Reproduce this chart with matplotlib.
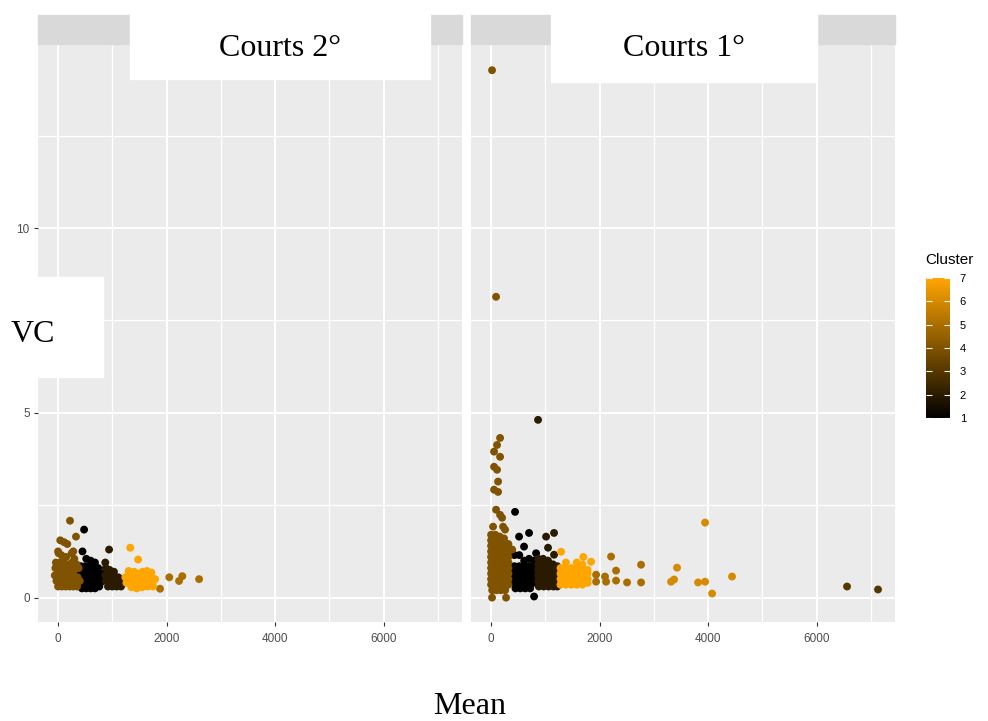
import numpy as np
import matplotlib
matplotlib.use('Agg')
import matplotlib.pyplot as plt
from matplotlib.colors import LinearSegmentedColormap, Normalize
from matplotlib.cm import ScalarMappable
from matplotlib.patches import Rectangle

# Facet titles and cluster levels
panel_titles = ['Courts 2°', 'Courts 1°']
cluster_levels = [1, 2, 3, 4, 5, 6, 7]

# Courts 2° : (Mean, VC) per cluster
c2_cl1 = [(480, 1.84), (450, 1.25), (520, 1.05), (600, 1.0), (680, 0.95),
          (420, 0.85), (500, 0.85), (580, 0.85), (660, 0.85), (740, 0.8),
          (400, 0.7), (480, 0.7), (560, 0.7), (640, 0.7), (720, 0.7), (800, 0.65),
          (420, 0.55), (500, 0.55), (580, 0.55), (660, 0.55), (740, 0.55), (820, 0.5),
          (380, 0.4), (460, 0.4), (540, 0.4), (620, 0.4), (700, 0.4), (780, 0.4),
          (440, 0.25), (520, 0.25), (600, 0.25), (680, 0.25), (760, 0.3)]
c2_cl2 = [(940, 1.3), (870, 0.95), (880, 0.8), (950, 0.75), (1030, 0.7),
          (870, 0.6), (950, 0.6), (1030, 0.55), (1110, 0.55), (1190, 0.5),
          (880, 0.45), (960, 0.45), (1040, 0.4), (1120, 0.4), (1200, 0.4),
          (920, 0.3), (1000, 0.3), (1080, 0.3), (1160, 0.3)]
c2_cl4 = [(220, 2.08), (40, 1.55), (110, 1.5), (170, 1.45), (330, 1.65), (10, 1.2), (280, 1.25),
          (0, 1.25), (60, 1.15), (150, 1.1), (250, 1.2), (300, 1.05),
          (-40, 0.95), (30, 0.95), (100, 0.95), (180, 0.9), (260, 0.95), (340, 0.9),
          (-50, 0.8), (20, 0.75), (90, 0.8), (160, 0.75), (230, 0.8), (300, 0.75), (380, 0.8),
          (-60, 0.6), (10, 0.6), (80, 0.6), (150, 0.6), (220, 0.6), (290, 0.6), (360, 0.55),
          (-30, 0.45), (40, 0.45), (110, 0.45), (180, 0.45), (250, 0.45), (320, 0.4), (400, 0.45),
          (0, 0.3), (70, 0.3), (140, 0.3), (210, 0.3), (280, 0.3), (350, 0.3)]
c2_cl5 = [(1880, 0.24), (2050, 0.55), (2230, 0.45), (2290, 0.58), (2600, 0.5)]
c2_cl7 = [(1330, 1.35), (1475, 1.03), (1300, 0.72), (1400, 0.7), (1480, 0.65), (1560, 0.7),
          (1640, 0.72), (1720, 0.68),
          (1240, 0.55), (1320, 0.55), (1400, 0.55), (1480, 0.55), (1560, 0.55), (1640, 0.55),
          (1720, 0.55), (1790, 0.5),
          (1260, 0.4), (1340, 0.4), (1420, 0.4), (1500, 0.4), (1580, 0.4), (1660, 0.4), (1740, 0.4),
          (1350, 0.28), (1450, 0.25), (1550, 0.28), (1650, 0.3), (1750, 0.3)]

# Courts 1°
c1_cl1 = [(442, 2.32), (516, 1.65), (700, 1.75), (608, 1.38), (830, 1.2), (793, 0.03),
          (430, 1.15), (520, 1.15), (610, 1.0), (700, 1.05), (790, 1.0),
          (430, 0.85), (520, 0.85), (610, 0.85), (700, 0.85), (790, 0.85),
          (430, 0.7), (520, 0.7), (610, 0.7), (700, 0.7), (790, 0.7),
          (430, 0.55), (520, 0.55), (610, 0.55), (700, 0.55), (790, 0.55),
          (430, 0.4), (520, 0.4), (610, 0.4), (700, 0.4), (790, 0.4),
          (450, 0.25), (540, 0.25), (630, 0.25), (720, 0.25)]
c1_cl2 = [(866, 4.81), (1014, 1.65), (1161, 1.75), (1050, 1.35), (1161, 1.16),
          (870, 1.05), (960, 1.05), (1050, 1.0),
          (870, 0.9), (960, 0.9), (1050, 0.9), (1140, 0.9), (1220, 0.85),
          (870, 0.75), (960, 0.75), (1050, 0.75), (1140, 0.75), (1220, 0.75),
          (870, 0.6), (960, 0.6), (1050, 0.6), (1140, 0.6), (1220, 0.6),
          (870, 0.45), (960, 0.45), (1050, 0.45), (1140, 0.45), (1220, 0.45),
          (880, 0.3), (970, 0.3), (1060, 0.3), (1150, 0.3), (1220, 0.3)]
c1_cl3 = [(6562, 0.30), (7133, 0.22)]
c1_cl4 = [(18, 14.27), (92, 8.14),
          (166, 4.32), (110, 4.13), (55, 3.95), (166, 3.81), (55, 3.54), (110, 3.46),
          (129, 3.14), (55, 2.92), (129, 2.86), (92, 2.38), (166, 2.24), (203, 2.16),
          (37, 1.92), (221, 1.92), (258, 1.84), (18, 0.0), (276, 0.0),
          (0, 1.7), (80, 1.7), (160, 1.65), (240, 1.6),
          (0, 1.55), (80, 1.55), (160, 1.55), (240, 1.5), (320, 1.45),
          (0, 1.4), (80, 1.4), (160, 1.4), (240, 1.4), (320, 1.35),
          (0, 1.25), (80, 1.25), (160, 1.25), (240, 1.25), (320, 1.25), (390, 1.3),
          (0, 1.1), (80, 1.1), (160, 1.1), (240, 1.1), (320, 1.1),
          (0, 0.95), (80, 0.95), (160, 0.95), (240, 0.95), (320, 0.95),
          (0, 0.8), (80, 0.8), (160, 0.8), (240, 0.8), (320, 0.8),
          (0, 0.65), (80, 0.65), (160, 0.65), (240, 0.65), (320, 0.65),
          (0, 0.5), (80, 0.5), (160, 0.5), (240, 0.5), (320, 0.5),
          (0, 0.35), (80, 0.35), (160, 0.35), (240, 0.35), (320, 0.35),
          (20, 0.2), (100, 0.2), (180, 0.2), (260, 0.2)]
c1_cl5 = [(1936, 0.62), (1936, 0.43), (2100, 0.57), (2120, 0.43), (2212, 1.11),
          (2304, 0.73), (2304, 0.46), (2507, 0.41), (2765, 0.89), (2765, 0.41)]
c1_cl6 = [(3318, 0.43), (3373, 0.49), (3428, 0.81), (3816, 0.41), (3945, 0.43),
          (3945, 2.03), (4074, 0.11), (4442, 0.57)]
c1_cl7 = [(1290, 1.24), (1700, 1.1), (1843, 0.97),
          (1380, 0.95), (1580, 0.95), (1680, 0.9),
          (1280, 0.8), (1380, 0.8), (1480, 0.8), (1580, 0.8), (1680, 0.8), (1780, 0.75),
          (1280, 0.65), (1380, 0.65), (1480, 0.65), (1580, 0.65), (1680, 0.65), (1780, 0.65),
          (1280, 0.5), (1380, 0.5), (1480, 0.5), (1580, 0.5), (1680, 0.5), (1780, 0.5),
          (1280, 0.35), (1380, 0.35), (1480, 0.35), (1580, 0.35), (1680, 0.35), (1780, 0.4)]

panels = [
    {1: c2_cl1, 2: c2_cl2, 4: c2_cl4, 5: c2_cl5, 7: c2_cl7},
    {1: c1_cl1, 2: c1_cl2, 3: c1_cl3, 4: c1_cl4, 5: c1_cl5, 6: c1_cl6, 7: c1_cl7},
]

W, H = 988, 721
cmap = LinearSegmentedColormap.from_list('cluster', ['black', '#FFA500'])
norm = Normalize(vmin=1, vmax=7)


def fig_box(x0, y0, x1, y1):
    '''Pixel box (top-left origin) -> figure fraction rect'''
    return [x0 / W, 1 - y1 / H, (x1 - x0) / W, (y1 - y0) / H]


fig = plt.figure(figsize=(W / 100, H / 100), dpi=100)
tick_font = 'Liberation Sans'
serif = 'Liberation Serif'

panel_px = [(38, 44, 462, 622), (471, 44, 895, 622)]
for i, (px, data) in enumerate(zip(panel_px, panels)):
    ax = fig.add_axes(fig_box(*px))
    ax.set_facecolor('#EBEBEB')
    for s in ax.spines.values():
        s.set_visible(False)
    ax.set_xlim(-370, 7446)
    ax.set_ylim(-0.66, 14.98)
    ax.set_xticks([0, 2000, 4000, 6000])
    ax.set_xticks([1000, 3000, 5000, 7000], minor=True)
    ax.set_yticks([0, 5, 10])
    ax.set_yticks([2.5, 7.5, 12.5], minor=True)
    ax.grid(which='major', color='white', lw=1.4)
    ax.grid(which='minor', color='white', lw=0.9)
    ax.set_axisbelow(True)
    ax.tick_params(which='minor', length=0)
    ax.tick_params(which='major', length=3, width=0.8, color='#333333',
                   labelsize=8.5, labelcolor='#4D4D4D')
    ax.tick_params(axis='x', pad=5)
    ax.tick_params(axis='y', pad=3)
    for lab in ax.get_xticklabels() + ax.get_yticklabels():
        lab.set_fontfamily(tick_font)
    if i == 1:
        ax.set_yticklabels([])
        ax.tick_params(axis='y', length=0)
    for cl, pts in data.items():
        pts = np.array(pts)
        ax.scatter(pts[:, 0], pts[:, 1], s=32, c=[cmap(norm(cl))] * len(pts),
                   marker='o', linewidths=0, zorder=3)
    # grey facet strip
    fig.patches.append(Rectangle((px[0] / W, 1 - 44 / H), (px[2] - px[0]) / W, 29 / H,
                                 transform=fig.transFigure, color='#D9D9D9', zorder=1))

# white boxes pasted over the strips, with the facet names
for (x0, y0, x1, y1), title in zip([(130, 0, 430, 79), (551, 0, 817, 82)], panel_titles):
    fig.patches.append(Rectangle((x0 / W, 1 - y1 / H), (x1 - x0) / W, (y1 - y0) / H,
                                 transform=fig.transFigure, color='white', zorder=5))
    fig.text((x0 + x1) / 2 / W, 1 - 48 / H, title, ha='center', va='center',
             fontsize=23, family=serif, zorder=6)

# axis titles
fig.patches.append(Rectangle((0, 1 - 377 / H), 103 / W, 100 / H,
                             transform=fig.transFigure, color='white', zorder=5))
fig.text(33 / W, 1 - 334 / H, 'VC', ha='center', va='center', fontsize=23, family=serif, zorder=6)
fig.text(470 / W, 1 - 707 / H, 'Mean', ha='center', va='center', fontsize=23, family=serif)

# colour bar legend
cax = fig.add_axes(fig_box(926, 278, 950, 418))
cb = fig.colorbar(ScalarMappable(norm=norm, cmap=cmap), cax=cax, ticks=cluster_levels)
cb.outline.set_visible(False)
cax.tick_params(color='white', direction='in', length=4, width=0.8, left=True, right=True,
                labelsize=8, pad=7)
for lab in cax.get_yticklabels():
    lab.set_fontfamily(tick_font)
fig.text(925 / W, 1 - 260 / H, 'Cluster', ha='left', va='center', fontsize=11, family=tick_font)

fig.savefig('out.png', dpi=100)
